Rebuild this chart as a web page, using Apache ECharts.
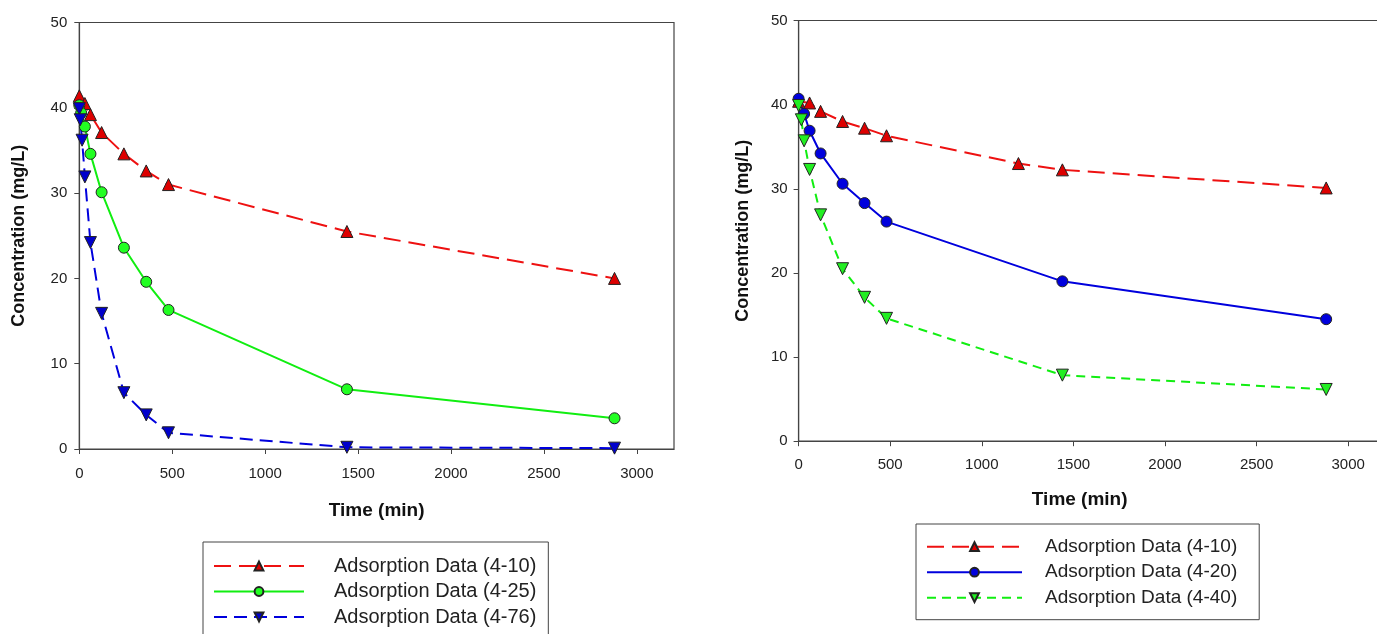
<!DOCTYPE html>
<html><head><meta charset="utf-8">
<script src="https://cdn.jsdelivr.net/npm/echarts@6/dist/echarts.min.js"></script>
<style>html,body{margin:0;padding:0;background:#fff}#c{width:1377px;height:634px}</style>
</head><body><div id="c"></div>
<script>
// Left panel
const L_red_t   = [0, 30, 60, 120, 240, 360, 480, 1440, 2880];
const L_red     = [41.4, 40.5, 39.2, 37.1, 34.6, 32.6, 31.0, 25.5, 20.0];
const L_green_t = [0, 10, 30, 60, 120, 240, 360, 480, 1440, 2880];
const L_green   = [40.3, 39.4, 37.8, 34.6, 30.1, 23.6, 19.6, 16.3, 7.0, 3.6];
const L_blue_t  = [0, 5, 15, 30, 60, 120, 240, 360, 480, 1440, 2880];
const L_blue    = [39.9, 38.6, 36.2, 31.9, 24.2, 15.9, 6.6, 4.0, 1.9, 0.2, 0.1];
// Right panel
const R_red_t   = [0, 60, 120, 240, 360, 480, 1200, 1440, 2880];
const R_red     = [40.4, 40.2, 39.2, 38.0, 37.2, 36.3, 33.0, 32.25, 30.1];
const R_blue_t  = [0, 30, 60, 120, 240, 360, 480, 1440, 2880];
const R_blue    = [40.7, 38.9, 36.9, 34.2, 30.6, 28.3, 26.1, 19.0, 14.5];
const R_green_t = [0, 15, 30, 60, 120, 240, 360, 480, 1440, 2880];
const R_green   = [39.9, 38.2, 35.7, 32.3, 26.9, 20.5, 17.1, 14.6, 7.85, 6.15];

const xTicks = [0, 500, 1000, 1500, 2000, 2500, 3000];
const yTicks = [0, 10, 20, 30, 40, 50];

const names = {
  l10: 'Adsorption Data (4-10)', l25: 'Adsorption Data (4-25)', l76: 'Adsorption Data (4-76)',
  r10: 'Adsorption Data (4-10) ', r20: 'Adsorption Data (4-20)', r40: 'Adsorption Data (4-40)'
};
const xTitle = 'Time (min)';
const yTitle = 'Concentration (mg/L)';

const zip = (t, v) => t.map((x, i) => [x, v[i]]);
const FONT = 'Liberation Sans, Arial, sans-serif';
const AX = '#444';

function xAxis(idx) {
  return {
    gridIndex: idx, type: 'value', min: 0, max: 3200, interval: 500,
    name: xTitle, nameLocation: 'middle', nameGap: idx === 0 ? 52 : 49,
    nameTextStyle: {fontFamily: FONT, fontWeight: 'bold', fontSize: 19, color: '#111',
      padding: idx === 0 ? 0 : [0, 24, 0, 0]},
    axisLine: {show: true, lineStyle: {color: AX, width: 1.2}},
    axisTick: {show: true, length: 5, lineStyle: {color: AX}, customValues: xTicks},
    axisLabel: {fontFamily: FONT, fontSize: 15, color: '#222', margin: idx === 0 ? 17 : 16,
      customValues: xTicks, formatter: v => String(v)},
    splitLine: {show: false}
  };
}
function yAxis(idx) {
  return {
    gridIndex: idx, type: 'value', min: 0, max: 50, interval: 10,
    name: yTitle, nameLocation: 'middle', nameGap: idx === 0 ? 51 : 47, nameRotate: 90,
    nameTextStyle: {fontFamily: FONT, fontWeight: 'bold', fontSize: 18, color: '#111'},
    axisLine: {show: true, lineStyle: {color: AX, width: 1.2}},
    axisTick: {show: true, length: 5, lineStyle: {color: AX}, customValues: yTicks},
    axisLabel: {fontFamily: FONT, fontSize: 15, color: '#222', margin: idx === 0 ? 12 : 11,
      customValues: yTicks, formatter: v => String(v)},
    splitLine: {show: false}
  };
}
function ser(name, data, idx, color, fill, sym, rot, dash, size) {
  return {
    name, type: 'line', xAxisIndex: idx, yAxisIndex: idx, data,
    symbol: sym, symbolRotate: rot, symbolSize: size,
    lineStyle: {color: color, width: 2, type: dash},
    itemStyle: {color: fill, borderColor: '#222', borderWidth: 1},
    emphasis: {disabled: true}, animation: false, z: 3
  };
}

const option = {
  backgroundColor: '#fff',
  animation: false,
  grid: [
    {left: 79.3, width: 594.7, top: 22.5, height: 426.5, show: true, borderColor: AX, borderWidth: 1.2,
     backgroundColor: 'transparent', outerBoundsMode: 'none', containLabel: false},
    {left: 798.6, width: 586.2, top: 20.5, height: 420.7, show: true, borderColor: AX, borderWidth: 1.2,
     backgroundColor: 'transparent', outerBoundsMode: 'none', containLabel: false}
  ],
  xAxis: [xAxis(0), xAxis(1)],
  yAxis: [yAxis(0), yAxis(1)],
  legend: [
    {data: [names.l10, names.l25, names.l76], orient: 'horizontal', left: 203, top: 542, width: 345,
     itemWidth: 90, itemHeight: 11, itemGap: 5.5, padding: [14, 12, 20, 10],
     borderColor: '#444', borderWidth: 1,
     textStyle: {fontFamily: FONT, fontSize: 20, color: '#222', padding: [0, 0, 0, 25]}, selectedMode: false},
    {data: [names.r10, names.r20, names.r40], orient: 'vertical', left: 916, top: 524,
     itemWidth: 95, itemHeight: 11, itemGap: 6.5, padding: [13.2, 22, 12.5, 10],
     borderColor: '#444', borderWidth: 1,
     textStyle: {fontFamily: FONT, fontSize: 19, color: '#222', padding: [0, 0, 0, 18]}, selectedMode: false,
     formatter: n => n.trim()}
  ],
  series: [
    ser(names.l10, zip(L_red_t, L_red), 0, '#ee1111', '#dd0000', 'triangle', 0, [17, 8], 12),
    ser(names.l25, zip(L_green_t, L_green), 0, '#11ee11', '#22ff22', 'circle', 0, 'solid', 11),
    ser(names.l76, zip(L_blue_t, L_blue), 0, '#0000dd', '#0000cc', 'triangle', 180, [13, 7], 12),
    ser(names.r10, zip(R_red_t, R_red), 1, '#ee1111', '#dd0000', 'triangle', 0, [17, 8], 12),
    ser(names.r20, zip(R_blue_t, R_blue), 1, '#0000dd', '#0000dd', 'circle', 0, 'solid', 11),
    ser(names.r40, zip(R_green_t, R_green), 1, '#11ee11', '#22ee22', 'triangle', 180, [9, 6], 12)
  ]
};
const chart = echarts.init(document.getElementById('c'), null, {renderer: 'canvas'});
chart.setOption(option);
</script></body></html>
